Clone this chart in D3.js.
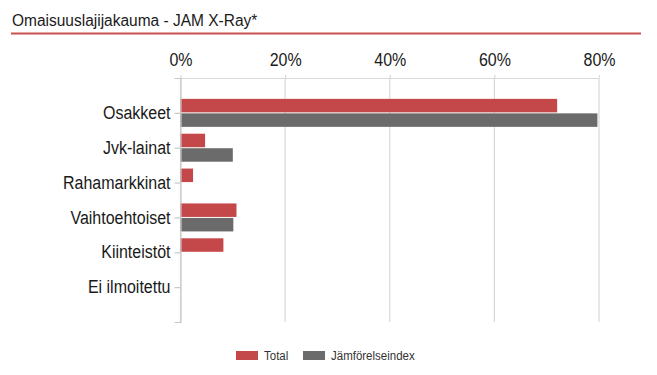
<!DOCTYPE html>
<html>
<head>
<meta charset="utf-8">
<script src="https://cdn.jsdelivr.net/npm/d3@7"></script>
<style>
  body { margin: 0; background: #fff; }
  svg { display: block; font-family: "Liberation Sans", Arial, sans-serif; }
</style>
</head>
<body>
<div id="chart"></div>
<script>
// data
var categories = ["Osakkeet", "Jvk-lainat", "Rahamarkkinat", "Vaihtoehtoiset", "Kiinteistöt", "Ei ilmoitettu"];
var totalValues = [72.0, 4.7, 2.4, 10.7, 8.2, null];
var indexValues = [79.7, 10.0, null, 10.1, null, null];
var seriesNames = ["Total", "Jämförelseindex"];
var seriesColors = ["#c4474a", "#6b6b6b"];
var xTicks = [0, 20, 40, 60, 80];

var W = 657, H = 375;
var margin = {top: 78, right: 58, bottom: 53, left: 180.5};
var width = W - margin.left - margin.right,
    height = H - margin.top - margin.bottom;
var stretch = "scale(1,1.1)"; // text in the picture is a bit taller than normal

var svg = d3.select("#chart").append("svg")
    .attr("width", W)
    .attr("height", H);

// title + red rule
svg.append("text")
    .attr("transform", "translate(12,26) " + stretch)
    .style("font-size", "15.5px")
    .style("fill", "#1a1a1a")
    .text("Omaisuuslajijakauma - JAM X-Ray*");

svg.append("line")
    .attr("x1", 11).attr("x2", 641)
    .attr("y1", 33.5).attr("y2", 33.5)
    .attr("stroke", "#c9514f")
    .attr("stroke-width", 2);

var g = svg.append("g")
    .attr("transform", "translate(" + margin.left + "," + margin.top + ")");

var x = d3.scaleLinear().domain([0, 80]).range([0, width]);
var y = d3.scalePoint().domain(categories).range([0, height]).padding(1);

// vertical gridlines
g.selectAll(".grid")
    .data(xTicks)
    .enter().append("line")
    .attr("class", "grid")
    .attr("x1", function (d) { return x(d); })
    .attr("x2", function (d) { return x(d); })
    .attr("y1", 0)
    .attr("y2", height)
    .attr("stroke", "#d9d9d9")
    .attr("stroke-width", 1.2);

// top axis
var xAxis = g.append("g")
    .call(d3.axisTop(x).tickValues(xTicks).tickSize(3).tickSizeOuter(0)
        .tickFormat(function (d) { return d + "%"; }));
xAxis.select(".domain").attr("stroke", "#d9d9d9").attr("stroke-width", 1.2)
    .attr("d", "M-6,0.5H" + width);
xAxis.selectAll(".tick line").attr("stroke", "#d9d9d9").attr("stroke-width", 1.2);
xAxis.selectAll(".tick text")
    .attr("y", -11)
    .attr("transform", stretch)
    .style("font-size", "16px")
    .style("font-family", "Liberation Sans, Arial, sans-serif")
    .style("fill", "#1a1a1a");

// bars
var barH = 13.5;
var series = [totalValues, indexValues];
series.forEach(function (vals, si) {
    g.selectAll(".bar" + si)
        .data(categories.map(function (c, i) { return {cat: c, v: vals[i]}; })
            .filter(function (d) { return d.v != null; }))
        .enter().append("rect")
        .attr("class", "bar" + si)
        .attr("x", x(0))
        .attr("y", function (d) { return y(d.cat) - barH + si * barH + (si ? 0.5 : -0.5); })
        .attr("width", function (d) { return x(d.v) - x(0); })
        .attr("height", barH)
        .attr("fill", seriesColors[si]);
});

// left axis
var yAxis = g.append("g")
    .call(d3.axisLeft(y).tickSize(6).tickSizeOuter(6).tickPadding(4));
yAxis.select(".domain").attr("stroke", "#c8c8c8").attr("stroke-width", 1.2);
yAxis.selectAll(".tick line").attr("stroke", "#c8c8c8").attr("stroke-width", 1.2);
yAxis.selectAll(".tick text")
    .attr("transform", stretch)
    .style("font-size", "16px")
    .style("font-family", "Liberation Sans, Arial, sans-serif")
    .style("fill", "#1a1a1a");

// legend
var legend = svg.append("g").attr("transform", "translate(236,351)");
var legendX = [0, 67];
seriesNames.forEach(function (name, i) {
    var lg = legend.append("g").attr("transform", "translate(" + legendX[i] + ",0)");
    lg.append("rect")
        .attr("width", 22).attr("height", 9)
        .attr("fill", seriesColors[i]);
    lg.append("text")
        .attr("transform", "translate(28,9) " + stretch)
        .style("font-size", "11.5px")
        .style("fill", "#333")
        .text(name);
});
</script>
</body>
</html>
